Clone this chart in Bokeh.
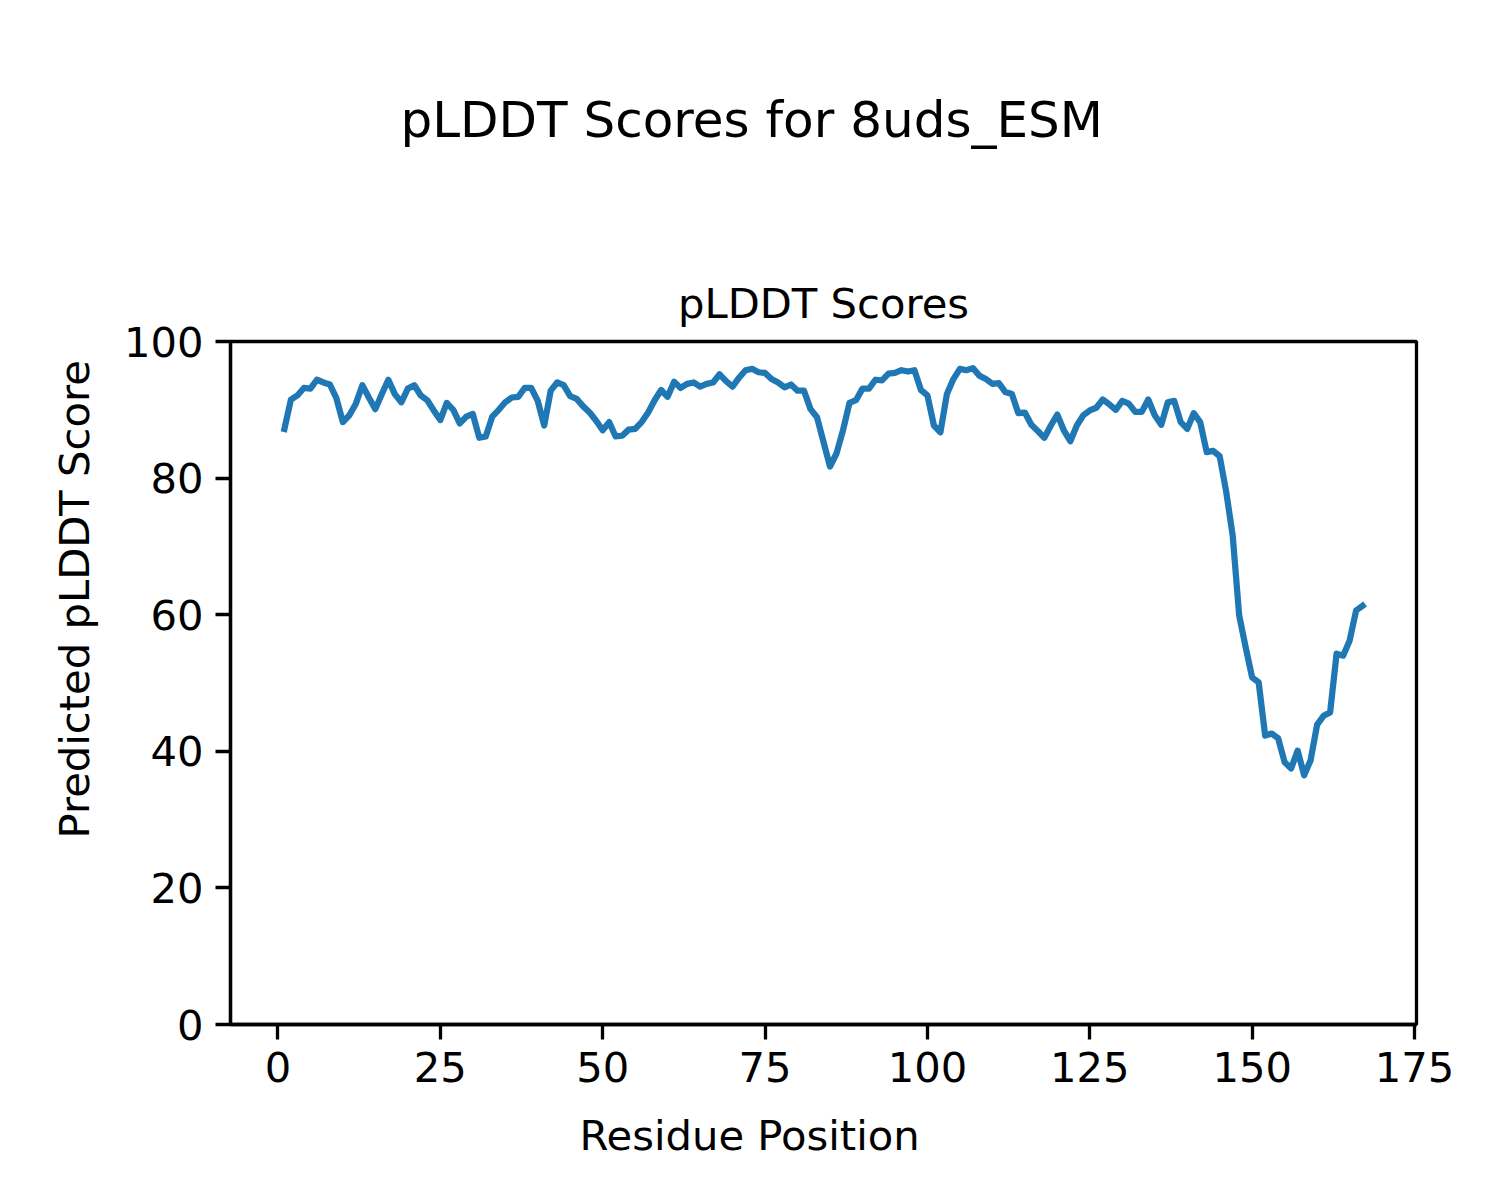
from bokeh.plotting import figure
from bokeh.models import FixedTicker, Title
from bokeh.embed import file_html
from bokeh.resources import INLINE

# ---- data ----
residue_position = list(range(1, 168))
plddt_scores = [
    87.2, 91.5, 92.1, 93.2, 93.1, 94.4, 94.0, 93.7, 91.7, 88.2,
    89.2, 90.9, 93.6, 91.8, 90.1, 92.3, 94.4, 92.3, 91.1, 93.1,
    93.6, 92.1, 91.4, 89.9, 88.5, 91.0, 90.0, 88.0, 89.0, 89.4,
    85.9, 86.1, 89.0, 90.0, 91.1, 91.8, 91.9, 93.2, 93.2, 91.3,
    87.7, 92.8, 94.0, 93.6, 92.0, 91.6, 90.5, 89.6, 88.4, 87.0,
    88.2, 86.1, 86.2, 87.1, 87.2, 88.2, 89.6, 91.4, 92.9, 91.9,
    94.1, 93.2, 93.8, 94.0, 93.4, 93.8, 94.0, 95.2, 94.2, 93.4,
    94.7, 95.8, 96.0, 95.5, 95.4, 94.5, 94.0, 93.3, 93.7, 92.8,
    92.8, 90.1, 88.9, 85.3, 81.7, 83.6, 87.0, 91.0, 91.4, 93.1,
    93.1, 94.4, 94.3, 95.3, 95.4, 95.8, 95.6, 95.8, 92.9, 92.1,
    87.7, 86.7, 92.3, 94.5, 96.0, 95.8, 96.1, 95.0, 94.5, 93.8,
    93.9, 92.6, 92.3, 89.5, 89.6, 87.8, 86.9, 85.9, 87.7, 89.3,
    87.0, 85.4, 87.7, 89.2, 89.9, 90.3, 91.5, 90.8, 90.0, 91.3,
    90.9, 89.7, 89.7, 91.5, 89.2, 87.8, 91.1, 91.3, 88.2, 87.2,
    89.5, 88.2, 83.8, 84.0, 83.2, 78.0, 71.6, 59.9, 55.2, 50.8,
    50.1, 42.3, 42.6, 41.9, 38.4, 37.5, 40.1, 36.5, 38.7, 43.9,
    45.2, 45.7, 54.3, 54.0, 56.2, 60.6, 61.3,
]
x_ticks = [0, 25, 50, 75, 100, 125, 150, 175]
y_ticks = [0, 20, 40, 60, 80, 100]

suptitle_text = "pLDDT Scores for 8uds_ESM"
axes_title_text = "pLDDT Scores"
x_label_text = "Residue Position"
y_label_text = "Predicted pLDDT Score"

FONT = "DejaVu Sans"
FS = "41.7px"

p = figure(
    width=1484, height=1184,
    x_range=(-7.3, 175.3), y_range=(0, 100),
    output_backend="svg", toolbar_location=None,
    min_border_left=230, min_border_right=68,
    min_border_top=341, min_border_bottom=160,
    background_fill_color="white", border_fill_color="white",
)

p.line(residue_position, plddt_scores, line_color="#1f77b4", line_width=6.25,
       line_join="round", line_cap="square")

p.xgrid.visible = False
p.ygrid.visible = False
p.outline_line_color = "black"
p.outline_line_width = 3.3
p.outline_line_alpha = 1.0

p.xaxis.ticker = FixedTicker(ticks=x_ticks)
p.yaxis.ticker = FixedTicker(ticks=y_ticks)
for ax in (p.xaxis, p.yaxis):
    ax.axis_line_width = 3.3
    ax.axis_line_color = "black"
    ax.major_tick_line_width = 3.3
    ax.major_tick_line_color = "black"
    ax.major_tick_out = 15
    ax.major_tick_in = 0
    ax.minor_tick_line_color = None
    ax.major_label_standoff = 12
    ax.major_label_text_font = FONT
    ax.major_label_text_font_size = FS
    ax.major_label_text_color = "black"

# figure title (outermost, centred on the figure); the blank second line
# lifts the visible line within its panel
p.title.text = suptitle_text + "\n "
p.title.align = "left"
p.title.offset = 170
p.title.text_font = FONT
p.title.text_font_size = "50px"
p.title.text_font_style = "normal"
p.title.text_color = "black"
p.title.standoff = 112

# axes title (next to the frame)
p.add_layout(Title(text=axes_title_text, align="center", standoff=28,
                   text_font=FONT, text_font_size=FS,
                   text_font_style="normal", text_color="black"), "above")
# figure-level axis labels, centred on the figure rather than the frame
p.add_layout(Title(text=x_label_text, align="left", offset=349, standoff=49,
                   text_font=FONT, text_font_size=FS,
                   text_font_style="normal", text_color="black"), "below")
p.add_layout(Title(text=y_label_text, align="left", offset=186, standoff=43,
                   text_font=FONT, text_font_size=FS,
                   text_font_style="normal", text_color="black"), "left")

open("out.html", "w").write(file_html(p, INLINE))
